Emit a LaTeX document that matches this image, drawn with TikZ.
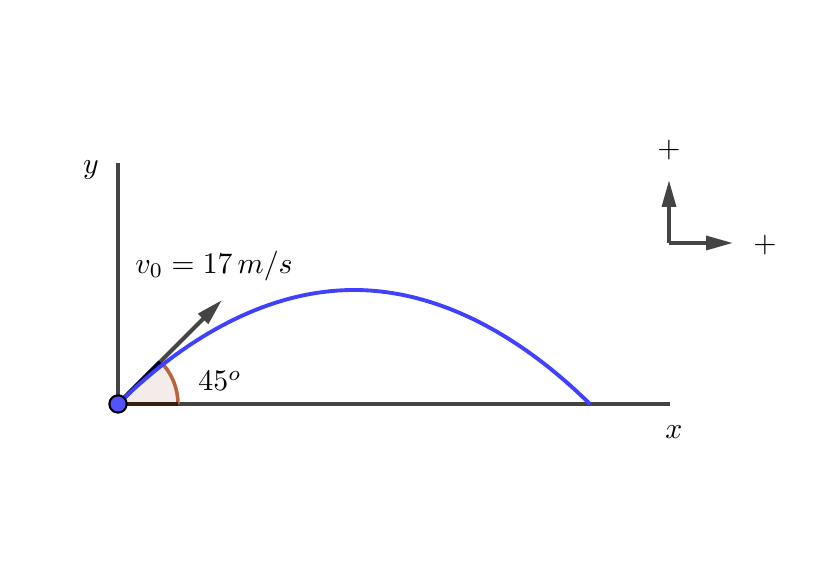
\documentclass[tikz,border=0pt]{standalone}
\usepackage{amsmath}
\usepackage{tikz}
\usetikzlibrary{arrows.meta}
\definecolor{axisgray}{HTML}{444444}
\definecolor{pathblue}{HTML}{4040FF}
\definecolor{dotblue}{HTML}{5252FF}
\definecolor{anglebrown}{HTML}{B8643C}
\definecolor{anglefill}{HTML}{F4ECE8}

\begin{document}
\begin{tikzpicture}[x=0.0118cm, y=0.0118cm,
axis/.style={draw=axisgray, line width=1.35pt},
vec/.style={draw=axisgray, line width=1.35pt, -{Triangle[length=9pt,width=4.6pt]}},
lbl/.style={inner sep=0pt}]

\useasboundingbox (0,0) rectangle (840,561);

% axes
\coordinate (O) at (118,157);
\coordinate (ytop) at (118,398);
\coordinate (xend) at (670,157);
\draw[axis] (O) -- (ytop);
\draw[axis] (O) -- (xend);
\node[lbl] (ylab) at (91,391) {$y$};
\node[lbl] (xlab) at (674,129) {$x$};

% angle
\fill[anglefill] (O) -- (178,157) arc[start angle=0, end angle=45, radius=60] -- cycle;
\draw[anglebrown, line width=1.2pt] (178,157) arc[start angle=0, end angle=45, radius=60];
\draw[black!70!anglebrown, line width=1.35pt] (O) -- (178,157);
\node[lbl] (ang) at (220,180) {$45^o$};

% initial velocity
\coordinate (vtip) at (222,261);
\draw[vec] (O) -- (vtip);
\draw[black!85!blue, line width=1.35pt] (O) -- (160,199);
\node[lbl] (vlab) at (214,295) {$v_0=17\,m/s$};

% trajectory
\coordinate (land) at (590,157);
\draw[pathblue, line width=1.3pt] (O) parabola bend (354,271) (land);

% launch point
\node[circle, fill=dotblue, draw=black, line width=0.7pt, minimum size=5.8pt, inner sep=0pt] (P) at (O) {};

% sign convention
\coordinate (F) at (669,318);
\coordinate (Fup) at (669,381);
\coordinate (Fright) at (733,318);
\draw[vec] (F) -- (Fup);
\draw[vec] (F) -- (Fright);
\node[lbl] (plusy) at (669,411) {$+$};
\node[lbl] (plusx) at (765,316) {$+$};
\end{tikzpicture}
\end{document}
